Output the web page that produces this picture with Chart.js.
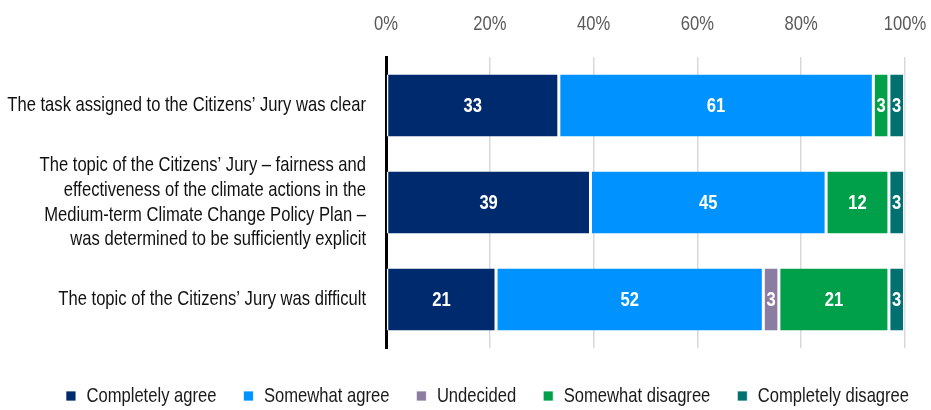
<!DOCTYPE html>
<html>
<head>
<meta charset="utf-8">
<script src="https://cdn.jsdelivr.net/npm/chart.js@4"></script>
<style>
  html, body { margin: 0; padding: 0; background: #fff; }
  #wrap { width: 931px; height: 410px; position: relative; }
</style>
</head>
<body>
<div id="wrap"><canvas id="c" width="931" height="410"></canvas></div>
<script>
const categories = [
  "The task assigned to the Citizens’ Jury was clear",
  ["The topic of the Citizens’ Jury – fairness and", "effectiveness of the climate actions in the", "Medium-term Climate Change Policy Plan –", "was determined to be sufficiently explicit"],
  "The topic of the Citizens’ Jury was difficult"
];
const seriesNames = ["Completely agree", "Somewhat agree", "Undecided", "Somewhat disagree", "Completely disagree"];
const completelyAgree    = [33.3, 39.4, 21.2];
const somewhatAgree      = [60.6, 45.4, 51.5];
const undecided          = [0, 0, 3.0];
const somewhatDisagree   = [3.0, 12.1, 21.2];
const completelyDisagree = [3.0, 3.0, 3.0];
const xTicks = [0, 20, 40, 60, 80, 100];
const colors = ["#002A6E", "#0093FF", "#8A7DA0", "#00A04B", "#007070"];

const FAMILY = "'Liberation Sans', Arial, sans-serif";
const SX = 0.79; // horizontal condensing of all text, to mimic a condensed typeface
const values = [completelyAgree, somewhatAgree, undecided, somewhatDisagree, completelyDisagree];

const canvas = document.getElementById("c");
const ctx = canvas.getContext("2d");
const origFill = ctx.fillText.bind(ctx);
const origMeasure = ctx.measureText.bind(ctx);
ctx.fillText = function (text, x, y) {
  this.save();
  this.translate(x, y);
  this.scale(SX, 1);
  origFill(text, 0, 0);
  this.restore();
};
ctx.measureText = function (text) {
  const m = origMeasure(text);
  return {
    width: m.width * SX,
    actualBoundingBoxAscent: m.actualBoundingBoxAscent,
    actualBoundingBoxDescent: m.actualBoundingBoxDescent,
    actualBoundingBoxLeft: m.actualBoundingBoxLeft * SX,
    actualBoundingBoxRight: m.actualBoundingBoxRight * SX,
    fontBoundingBoxAscent: m.fontBoundingBoxAscent,
    fontBoundingBoxDescent: m.fontBoundingBoxDescent
  };
};

const datasets = seriesNames.map((name, i) => ({
  label: name,
  data: values[i],
  backgroundColor: colors[i],
  borderColor: "#ffffff",
  borderWidth: { left: 1.5, right: 1.5, top: 0, bottom: 0 },
  borderSkipped: false,
  barPercentage: 0.64,
  categoryPercentage: 1.0
}));

const barLabels = {
  id: "barLabels",
  afterDatasetsDraw(chart) {
    const c = chart.ctx;
    c.save();
    c.fillStyle = "#ffffff";
    c.font = "bold 21px " + FAMILY;
    c.textAlign = "center";
    c.textBaseline = "middle";
    chart.data.datasets.forEach((ds, di) => {
      const meta = chart.getDatasetMeta(di);
      meta.data.forEach((el, idx) => {
        const v = ds.data[idx];
        if (!v || v < 0.5) return;
        const cx = (el.x + el.base) / 2;
        c.fillText(String(Math.round(v)), cx, el.y + 1);
      });
    });
    c.restore();
  }
};

// shift the legend a little to the right, as in the reference
const legendShift = {
  id: "legendShift",
  afterLayout(chart) {
    if (chart.legend) {
      chart.legend.left += 35;
      chart.legend.right += 35;
    }
  }
};

new Chart(ctx, {
  type: "bar",
  data: { labels: categories, datasets },
  plugins: [barLabels, legendShift],
  options: {
    indexAxis: "y",
    responsive: false,
    animation: false,
    devicePixelRatio: 1,
    layout: { padding: { left: 0, right: 26, top: 0, bottom: -6.5 } },
    plugins: {
      legend: {
        position: "bottom",
        title: { display: true, text: "", font: { size: 1, lineHeight: 1 }, padding: { top: 9.5, bottom: 0 } },
        labels: {
          boxWidth: 10,
          boxHeight: 10,
          padding: 27,
          color: "#1a1a1a",
          font: { size: 21, family: FAMILY }
        }
      },
      tooltip: { enabled: false }
    },
    scales: {
      x: {
        position: "top",
        stacked: true,
        min: 0,
        max: 100,
        afterBuildTicks(scale) { scale.ticks = xTicks.map(v => ({ value: v })); },
        afterFit(scale) { scale.height = 57; },
        ticks: {
          padding: 4,
          color: "#595959",
          font: { size: 21, family: FAMILY },
          callback: v => v + "%"
        },
        grid: { color: "#d9d9d9", lineWidth: 1.5, drawTicks: true, tickLength: 16, tickColor: "rgba(0,0,0,0)" },
        border: { display: false }
      },
      y: {
        stacked: true,
        afterFit(scale) { scale.width = 386; },
        ticks: {
          autoSkip: false,
          padding: 20,
          color: "#111111",
          font: { size: 21, family: FAMILY, lineHeight: 1.17 }
        },
        grid: { display: false, drawTicks: false },
        border: { display: true, color: "#000000", width: 3 }
      }
    }
  }
});
</script>
</body>
</html>
